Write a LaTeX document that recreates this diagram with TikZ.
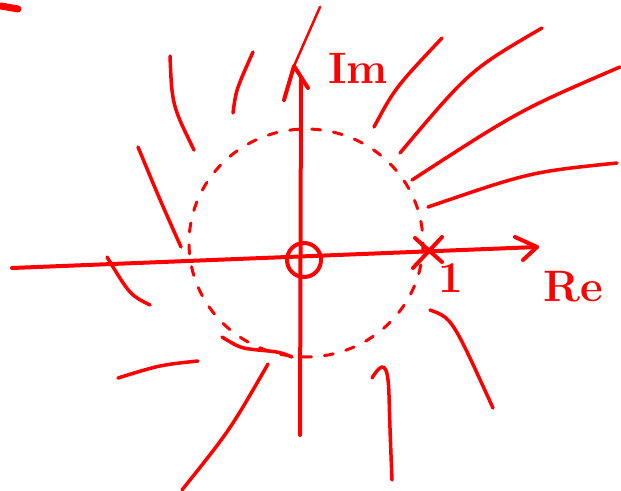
\documentclass[tikz,border=0pt]{standalone}
\usepackage{tikz}
\usetikzlibrary{positioning, calc}

\begin{document}
\begin{tikzpicture}[
  x=1pt, y=-1pt,
  stroke/.style={red, line width=3.5pt, line cap=round, line join=round},
  axis/.style={red, line width=4pt, line cap=round, line join=round},
  dashcircle/.style={red, line width=3pt, line cap=round, dash pattern=on 9pt off 13pt},
  lab/.style={text=red, font=\fontsize{44}{44}\selectfont\bfseries, inner sep=0pt}
]
  \useasboundingbox (0,0) rectangle (621,490);

  % stray mark
  \draw[red, line width=7pt, line cap=round] (1,6) -- (18,9);

  % axes
  \draw[axis] (12,268) -- (537,247);
  \draw[axis] (515,237) -- (537,247) -- (523,260);
  \draw[axis] (300,435) -- (301,78);
  \draw[axis] (284,100) -- (294,66) -- (308,88);
  \draw[red, line width=2.5pt, line cap=round] (294,66) -- (320,7);

  \node[lab] (im) at (358,68) {Im};
  \node[lab] (re) at (573,287) {Re};
  \node[lab] (one) at (451,278) {1};

  % pole and zero
  \draw[axis] (304,260) circle[radius=17];
  \draw[axis] (415,238) -- (442,262) (442,237) -- (413,268);

  % unit circle
  \draw[dashcircle] (306,243) ellipse[x radius=117, y radius=114];
  \draw[stroke] (222,337) .. controls (240,348) .. (258,350) .. controls (280,352) .. (292,357);

  % field lines
  \draw[stroke] (170,56) .. controls (172,105) .. (194,150);
  \draw[stroke] (253,52) .. controls (236,90) .. (233,113);
  \draw[stroke] (138,147) .. controls (160,200) .. (181,247);
  \draw[stroke] (107,257) .. controls (130,295) .. (150,305);
  \draw[stroke] (118,378) .. controls (160,365) .. (198,361);
  \draw[stroke] (268,364) .. controls (230,430) .. (182,490);
  \draw[stroke] (372,378) .. controls (382,362) and (388,360) .. (389,395) .. controls (390,430) .. (392,480);
  \draw[stroke] (430,310) .. controls (452,318) .. (493,408);
  \draw[stroke] (374,127) .. controls (395,88) .. (442,38);
  \draw[stroke] (400,153) .. controls (470,70) .. (542,28);
  \draw[stroke] (412,180) .. controls (520,110) .. (620,67);
  \draw[stroke] (428,207) .. controls (530,172) .. (617,163);
\end{tikzpicture}
\end{document}
